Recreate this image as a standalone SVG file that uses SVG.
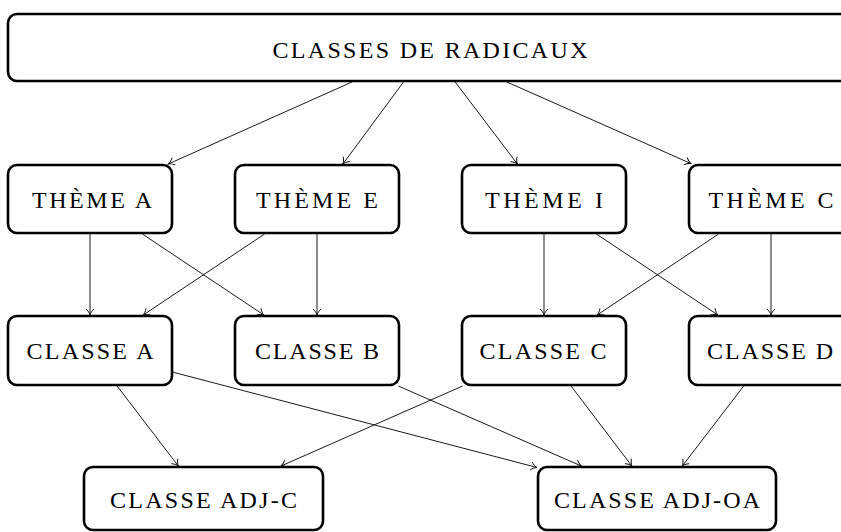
<svg xmlns="http://www.w3.org/2000/svg" width="841" height="532" viewBox="0 0 841 532">
<defs>
<style>
.box{fill:#fff;stroke:#000;stroke-width:2.6}
.lbl{font-family:"Liberation Serif","DejaVu Serif",serif;font-size:24px;fill:#000;text-anchor:middle}
.edge{stroke:#000;stroke-width:0.9;fill:none;marker-end:url(#arr)}
</style>
<marker id="arr" markerUnits="userSpaceOnUse" viewBox="-7 -5 8 10" refX="0" refY="0" markerWidth="8" markerHeight="10" orient="auto">
<path d="M-6,-4 C-4,-1.8 -1.8,-0.5 0,0 C-1.8,0.5 -4,1.8 -6,4" fill="none" stroke="#000" stroke-width="0.9"/>
</marker>
</defs>
<rect width="841" height="532" fill="#fff"/>
<g id="connectors">
<line class="edge" x1="352" y1="82" x2="168.3" y2="164"/>
<line class="edge" x1="403.5" y1="82" x2="342.9" y2="164"/>
<line class="edge" x1="455.2" y1="82" x2="517.4" y2="164"/>
<line class="edge" x1="506.9" y1="82" x2="691" y2="163.6"/>
<line class="edge" x1="90" y1="234" x2="90" y2="315"/>
<line class="edge" x1="142.4" y1="234" x2="263.8" y2="315"/>
<line class="edge" x1="264.6" y1="234" x2="143.2" y2="315"/>
<line class="edge" x1="317" y1="234" x2="317" y2="315"/>
<line class="edge" x1="544" y1="234" x2="544" y2="315"/>
<line class="edge" x1="596.4" y1="234" x2="717.8" y2="315"/>
<line class="edge" x1="718.6" y1="234" x2="597.2" y2="315"/>
<line class="edge" x1="771" y1="234" x2="771" y2="315"/>
<line class="edge" x1="117.1" y1="386" x2="178.3" y2="466"/>
<line class="edge" x1="173" y1="372.2" x2="537" y2="467.5"/>
<line class="edge" x1="398.3" y1="386" x2="581.4" y2="466"/>
<line class="edge" x1="462.6" y1="386" x2="281" y2="466"/>
<line class="edge" x1="571" y1="386" x2="631.9" y2="466"/>
<line class="edge" x1="743.7" y1="386" x2="682.3" y2="466"/>
</g>
<g id="classes-de-radicaux">
<rect class="box" x="8" y="14" width="842" height="67" rx="9"/>
<text class="lbl" x="430" y="58" textLength="315" lengthAdjust="spacing">CLASSES DE RADICAUX</text>
</g>
<g id="theme-a">
<rect class="box" x="8" y="165" width="164" height="68" rx="9"/>
<text class="lbl" x="92" y="207.5" textLength="120" lengthAdjust="spacing">THÈME A</text>
</g>
<g id="theme-e">
<rect class="box" x="235" y="165" width="164" height="68" rx="9"/>
<text class="lbl" x="317" y="207.5" textLength="122" lengthAdjust="spacing">THÈME E</text>
</g>
<g id="theme-i">
<rect class="box" x="462" y="165" width="164" height="68" rx="9"/>
<text class="lbl" x="544" y="207.5" textLength="118" lengthAdjust="spacing">THÈME I</text>
</g>
<g id="theme-c">
<rect class="box" x="689" y="165" width="164" height="68" rx="9"/>
<text class="lbl" x="771" y="207.5" textLength="125" lengthAdjust="spacing">THÈME C</text>
</g>
<g id="classe-a">
<rect class="box" x="8" y="316" width="164" height="69" rx="9"/>
<text class="lbl" x="90" y="358.5" textLength="127" lengthAdjust="spacing">CLASSE A</text>
</g>
<g id="classe-b">
<rect class="box" x="235" y="316" width="164" height="69" rx="9"/>
<text class="lbl" x="317" y="358.5" textLength="124" lengthAdjust="spacing">CLASSE B</text>
</g>
<g id="classe-c">
<rect class="box" x="462" y="316" width="164" height="69" rx="9"/>
<text class="lbl" x="543" y="358.5" textLength="127" lengthAdjust="spacing">CLASSE C</text>
</g>
<g id="classe-d">
<rect class="box" x="689" y="316" width="164" height="69" rx="9"/>
<text class="lbl" x="770" y="358.5" textLength="126" lengthAdjust="spacing">CLASSE D</text>
</g>
<g id="classe-adj-c">
<rect class="box" x="84" y="467" width="239" height="63" rx="9"/>
<text class="lbl" x="203.5" y="507.5" textLength="187" lengthAdjust="spacing">CLASSE ADJ-C</text>
</g>
<g id="classe-adj-oa">
<rect class="box" x="538" y="467" width="238" height="63" rx="9"/>
<text class="lbl" x="657" y="507.5" textLength="206" lengthAdjust="spacing">CLASSE ADJ-OA</text>
</g>
</svg>
